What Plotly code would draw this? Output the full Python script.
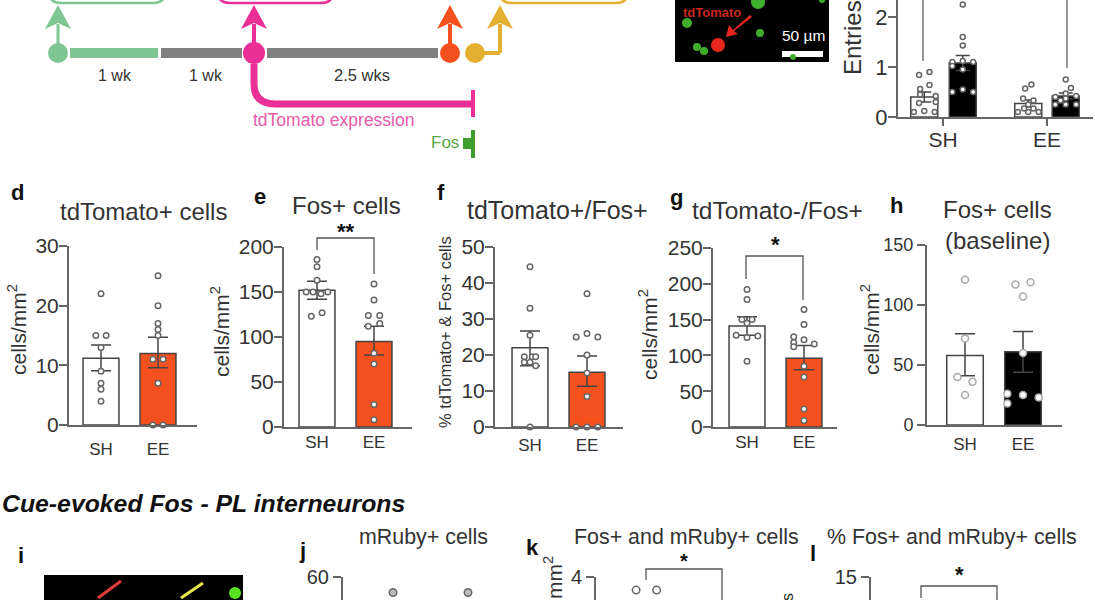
import plotly.graph_objects as go

W, H = 1095, 600
INK = "#333333"
AX = "#666666"
ORANGE = "#f4511e"
PINK = "#ea2f96"
LGREEN = "#7fc694"
YELLOW = "#e4b031"
DGREEN = "#3f9e2c"
GREY = "#808080"
FONT = "Liberation Sans"

groups = ["SH", "EE"]

# panel c
c_ticks = [0, 1, 2]
c_means = [0.40, 1.08, 0.27, 0.42]
c_errs = [0.10, 0.15, 0.07, 0.06]
c_pts_y = [
    [0.84, 0.90, 0.64, 0.56, 0.45, 0.42, 0.28, 0.30, 0.10, 0.12, 0.10],
    [2.25, 1.60, 1.43, 1.10, 1.12, 1.10, 1.02, 0.95, 0.50, 0.55, 0.50],
    [0.65, 0.57, 0.37, 0.33, 0.10, 0.10, 0.10, 0.17, 0.17, 0.25],
    [0.75, 0.58, 0.47, 0.40, 0.42, 0.25, 0.25, 0.25, 0.37, 0.33],
]
c_pts_dx = [
    [-.05, .05, .05, -.04, -.04, .11, -.05, .11, -.10, 0, .10],
    [0, 0, 0, -.10, 0, .10, -.10, 0, -.10, 0, .10],
    [.03, -.03, -.05, .05, -.10, 0, .10, -.04, .05, 0],
    [0, .05, 0, -.10, .10, -.10, 0, .10, 0, -.05],
]

# panel d
d_ticks = [0, 10, 20, 30]
d_means = [11.2, 12.0]
d_err_up = [2.2, 2.7]
d_err_dn = [2.1, 2.4]
d_sh_y = [22, 15, 15, 13, 9, 7, 6, 4]
d_sh_dx = [0, -.09, .09, 0, 0, 0, 0, 0]
d_ee_y = [25, 20, 17, 16, 15, 11, 11, 7, 0, 0]
d_ee_dx = [0, 0, 0, 0, 0, -.09, .09, 0, -.09, .09]

# panel e
e_ticks = [0, 50, 100, 150, 200]
e_means = [152, 95]
e_err_up = [10, 17]
e_err_dn = [10, 15]
e_sh_y = [186, 178, 163, 150, 150, 148, 150, 127, 123]
e_sh_dx = [0, 0, 0, -.19, -.07, .07, .19, .09, -.10]
e_ee_y = [159, 141, 124, 124, 115, 112, 82, 70, 25, 8]
e_ee_dx = [0, 0, -.10, .10, .10, -.10, 0, 0, 0, 0]

# panel f
f_ticks = [0, 10, 20, 30, 40, 50]
f_means = [22, 15.2]
f_err_up = [4.7, 4.5]
f_err_dn = [5, 3.9]
f_sh_y = [44.5, 33, 25.5, 19.5, 19.5, 19.5, 18, 18, 17, 0]
f_sh_dx = [0, 0, 0, -.1, .04, .1, -.1, 0, .1, 0]
f_ee_y = [37, 26, 25, 25, 20, 15, 8.5, 0, 0, 0]
f_ee_dx = [0, 0, -.19, .19, 0, 0, 0, -.19, 0, .19]

# panel g
g_ticks = [0, 50, 100, 150, 200, 250]
g_means = [141, 96]
g_err_up = [13, 18]
g_err_dn = [13, 16]
g_sh_y = [192, 178, 150, 150, 145, 128, 125, 127, 92]
g_sh_dx = [0, 0, -.09, .09, 0, -.19, 0, .19, 0]
g_ee_y = [164, 143, 126, 122, 116, 118, 112, 85, 70, 25, 9]
g_ee_dx = [0, 0, -.18, 0, .18, -.18, -.18, 0, 0, 0, 0]

# panel h
h_ticks = [0, 50, 100, 150]
h_means = [58, 61]
h_err_up = [18, 17]
h_err_dn = [17, 17]
h_sh_y = [121, 72, 40, 36, 25]
h_sh_dx = [0, 0, -.13, .13, 0]
h_ee_y = [119, 117, 107, 60, 26, 25, 23, 18]
h_ee_dx = [.13, -.13, 0, 0, -.27, 0, .27, -.27]

# lower row (only the top of each plot is in frame)
j_tick = [60]
j_y = [54.8, 54.8]
k_tick = [4]
k_y = [3.71, 3.71]
k_dx = [-.13, .14]
l_tick = [15]
l_y = []
l_dx = []

fig = go.Figure()
layout = {}
annotations = []
shapes = []
count = 0


def text(px, py, s, size=14, color=INK, angle=0, bold=False, italic=False, xanchor="center"):
    if bold:
        s = f"<b>{s}</b>"
    if italic:
        s = f"<i>{s}</i>"
    annotations.append(dict(
        x=px / W, y=1 - py / H, xref="paper", yref="paper", text=s, showarrow=False,
        xanchor=xanchor, yanchor="middle", textangle=angle,
        font=dict(family=FONT, size=size, color=color),
    ))


def rect(x0, y0, x1, y1, color):
    shapes.append(dict(
        type="rect", xref="paper", yref="paper", x0=x0 / W, x1=x1 / W, y0=1 - y0 / H, y1=1 - y1 / H,
        fillcolor=color, line=dict(width=0), layer="below",
    ))


def circle(cx, cy, r, color, layer="above"):
    shapes.append(dict(
        type="circle", xref="paper", yref="paper", x0=(cx - r) / W, x1=(cx + r) / W,
        y0=1 - (cy + r) / H, y1=1 - (cy - r) / H, fillcolor=color, line=dict(width=0), layer=layer,
    ))


def seg(x0, y0, x1, y1, color, width):
    shapes.append(dict(
        type="line", xref="paper", yref="paper", x0=x0 / W, x1=x1 / W, y0=1 - y0 / H, y1=1 - y1 / H,
        line=dict(color=color, width=width),
    ))


def poly(points, color=None, line=None, close=True):
    d = "M" + " L".join(f"{x / W:.5f},{1 - y / H:.5f}" for x, y in points) + (" Z" if close else "")
    shapes.append(dict(
        type="path", path=d, xref="paper", yref="paper",
        fillcolor=color if color else "rgba(0,0,0,0)",
        line=dict(width=0) if line is None else line,
    ))


def rounded_bottom(x0, x1, ytop, ybot, r, color, width):
    p = lambda x, y: f"{x / W:.5f},{1 - y / H:.5f}"
    d = f"M{p(x0, ytop)} Q{p(x0, ybot)} {p(x0 + r, ybot)} L{p(x1 - r, ybot)} Q{p(x1, ybot)} {p(x1, ytop)}"
    shapes.append(dict(type="path", path=d, xref="paper", yref="paper", fillcolor="rgba(0,0,0,0)",
                       line=dict(color=color, width=width)))


def axes(left, right, y0px, ytoppx, ymin, ymax, c0, spacing, ticks, tick_size, show_x=True, x_size=17,
         x_ticks=False, standoff=8, y_standoff=-4):
    global count
    count += 1
    n = count
    suffix = "" if n == 1 else str(n)
    layout[f"xaxis{suffix}"] = dict(
        domain=[left / W, right / W], anchor=f"y{suffix}", automargin=False,
        range=[(left - c0) / spacing, (right - c0) / spacing],
        tickmode="array", tickvals=[0, 1] if show_x else [], ticktext=groups if show_x else [],
        showgrid=False, zeroline=False, showline=show_x, linecolor=AX, linewidth=2,
        ticks="outside" if x_ticks else "", ticklen=7, tickcolor=AX, tickwidth=2,
        ticklabelstandoff=standoff,
        tickfont=dict(family=FONT, size=x_size, color=INK),
    )
    layout[f"yaxis{suffix}"] = dict(
        domain=[1 - y0px / H, 1 - ytoppx / H], anchor=f"x{suffix}", range=[ymin, ymax], automargin=False,
        tickmode="array", tickvals=ticks, ticktext=[str(t) for t in ticks],
        showgrid=False, zeroline=False, showline=True, linecolor=AX, linewidth=2,
        ticks="outside", ticklen=8, tickcolor=AX, tickwidth=2, ticklabelstandoff=y_standoff,
        tickfont=dict(family=FONT, size=tick_size, color=INK),
    )
    return f"x{n}", f"y{n}"


def bar(xa, ya, x, mean, up, dn, fill, width=.63, cap=10):
    fig.add_trace(go.Bar(
        x=[x], y=[mean], width=width, xaxis=xa, yaxis=ya, showlegend=False,
        marker=dict(color=fill, line=dict(color="#444444", width=1.5)),
        error_y=dict(type="data", array=[up], arrayminus=[dn], color="#444444", thickness=1.5, width=cap),
    ))


def dots(xa, ya, xs, ys, size=5.5, line="#666666", fill="#ffffff"):
    fig.add_trace(go.Scatter(
        x=xs, y=ys, mode="markers", xaxis=xa, yaxis=ya, showlegend=False, cliponaxis=False,
        marker=dict(size=size, color=fill, line=dict(color=line, width=1.5)),
    ))


def bracket(x0, x1, y_top, y_left, y_right):
    poly([(x0, y_left), (x0, y_top), (x1, y_top), (x1, y_right)], None, dict(color="#555555", width=1.3), close=False)


def two_bar(left, right, y0, top, ymax, c0, spacing, ticks, means, up, dn, sh_x, sh_y, ee_x, ee_y, fill,
            tick_size=21, x_size=17, size=5.5, line="#666666", width=.63, standoff=8, y_standoff=-4):
    xa, ya = axes(left, right, y0, top, 0, ymax, c0, spacing, ticks, tick_size, x_size=x_size,
                  standoff=standoff, y_standoff=y_standoff)
    bar(xa, ya, 0, means[0], up[0], dn[0], "#ffffff", width)
    bar(xa, ya, 1, means[1], up[1], dn[1], fill, width)
    dots(xa, ya, list(sh_x), sh_y, size, line)
    dots(xa, ya, [1 + d for d in ee_x], ee_y, size, line)
    return xa, ya


# -------- panel c
xa, ya = axes(898, 1093, 117, 0, 0, 2.34, 943, 104, c_ticks, 22, x_size=21, x_ticks=True, standoff=-4)
c_x = [-.18, .19, .82, 1.18]
c_fill = ["#ffffff", "#000000", "#ffffff", "#000000"]
for i in range(4):
    bar(xa, ya, c_x[i], c_means[i], c_errs[i], c_errs[i], c_fill[i], width=.26, cap=7)
for i in range(4):
    dots(xa, ya, [c_x[i] + d for d in c_pts_dx[i]], c_pts_y[i], 5, "#666666")
seg(923, 0, 923, 61, "#777777", 1.5)
seg(1067, 0, 1067, 68, "#777777", 1.5)
text(853, 37, "Entries", 24, angle=-90)

# -------- panel d
two_bar(69, 197, 425, 246, 30, 101, 57, d_ticks, d_means, d_err_up, d_err_dn, d_sh_dx, d_sh_y, d_ee_dx, d_ee_y, ORANGE)
text(143, 211, "tdTomato+ cells", 24)
text(17, 192, "d", 22, "#111111", bold=True)
text(17, 330, "cells/mm<sup>2</sup>", 21, angle=-90)

# -------- panel e
two_bar(284, 412, 427, 247, 200, 317, 57, e_ticks, e_means, e_err_up, e_err_dn, e_sh_dx, e_sh_y, e_ee_dx, e_ee_y, ORANGE,
        standoff=-1)
bracket(317, 374, 238, 250, 274)
text(346, 205, "Fos+ cells", 24)
text(346, 231, "**", 22, "#111111", bold=True)
text(260, 196, "e", 22, "#111111", bold=True)
text(220, 332, "cells/mm<sup>2</sup>", 21, angle=-90)

# -------- panel f
two_bar(495, 623, 427, 247, 50, 530, 57, f_ticks, f_means, f_err_up, f_err_dn, f_sh_dx, f_sh_y, f_ee_dx, f_ee_y, ORANGE,
        standoff=2)
text(557, 210, "tdTomato+/Fos+", 25)
text(441, 192, "f", 22, "#111111", bold=True)
text(445, 332, "% tdTomato+ &amp; Fos+ cells", 16.5, angle=-90)

# -------- panel g
two_bar(713, 837, 427, 248, 250, 747, 57, g_ticks, g_means, g_err_up, g_err_dn, g_sh_dx, g_sh_y, g_ee_dx, g_ee_y, ORANGE,
        standoff=-1)
bracket(746, 803, 256, 279, 300)
text(777, 210, "tdTomato-/Fos+", 24.5)
text(775, 244, "*", 22, "#111111", bold=True)
text(676, 197, "g", 22, "#111111", bold=True)
text(648, 335, "cells/mm<sup>2</sup>", 21, angle=-90)

# -------- panel h
two_bar(927, 1062, 425, 245, 150, 965, 58, h_ticks, h_means, h_err_up, h_err_dn, h_sh_dx, h_sh_y, h_ee_dx, h_ee_y, "#000000",
        tick_size=18, size=7, line="#aaaaaa", standoff=3, y_standoff=0)
text(997, 209, "Fos+ cells", 24)
text(997, 240, "(baseline)", 24)
text(896, 206, "h", 22, "#111111", bold=True)
text(870, 330, "cells/mm<sup>2</sup>", 21, angle=-90)

# -------- lower row
text(0, 503, "Cue-evoked Fos - PL interneurons", 24.8, "#111111", bold=True, italic=True, xanchor="left")
text(21, 555, "i", 22, "#111111", bold=True)
text(303, 550, "j", 22, "#111111", bold=True)
text(532, 547, "k", 22, "#111111", bold=True)
text(813, 553, "l", 22, "#111111", bold=True)
text(423, 537, "mRuby+ cells", 21.4)
text(686, 537, "Fos+ and mRuby+ cells", 21.4)
text(952, 537, "% Fos+ and mRuby+ cells", 21.4)

xa, ya = axes(343, 520, 600, 577, 52.3, 60, 393, 75, j_tick, 20, show_x=False, y_standoff=0)
dots(xa, ya, [0, 1], j_y, 7.5, "#666666", "#bbbbbb")

xa, ya = axes(596, 790, 600, 577, 3.49, 4, 646, 76, k_tick, 20, show_x=False, y_standoff=0)
dots(xa, ya, k_dx, k_y, 7.5, "#666666", "#ffffff")
bracket(646, 722, 569, 580, 600)
text(684, 561, "*", 20, "#111111", bold=True)
text(553, 578, "mm<sup>2</sup>", 21, angle=-90)

xa, ya = axes(871, 1060, 600, 577, 13.08, 15, 921, 76, l_tick, 20, show_x=False, y_standoff=0)
dots(xa, ya, l_dx, l_y)
bracket(921, 997, 586, 598, 600)
text(959, 574, "*", 22, "#111111", bold=True)
text(787, 597, "s", 16, angle=-90)

# -------- timeline schematic
rect(70, 48, 158, 58, LGREEN)
rect(161, 48, 242, 58, GREY)
rect(267, 48, 438, 58, GREY)
seg(475, 53, 500, 53, YELLOW, 4)
seg(500, 53, 500, 24, YELLOW, 4)
seg(58, 53, 58, 24, LGREEN, 3)
seg(254, 53, 254, 24, PINK, 4)
seg(450, 53, 450, 24, ORANGE, 4)
circle(58, 53, 10, LGREEN)
circle(254, 53, 11, PINK)
circle(450, 53, 10, ORANGE)
circle(475, 53, 10, YELLOW)
for ax_, col in [(58, LGREEN), (254, PINK), (450, ORANGE), (500, YELLOW)]:
    poly([(ax_, 5), (ax_ + 13, 29), (ax_, 23), (ax_ - 13, 29)], col)
for (x0, x1), col in [((49, 165), LGREEN), ((218, 333), PINK), ((500, 628), YELLOW)]:
    rounded_bottom(x0, x1, -8, 3, 12, col, 2.5)
P = lambda x, y: f"{x / W:.5f},{1 - y / H:.5f}"
shapes.append(dict(type="path", xref="paper", yref="paper", fillcolor="rgba(0,0,0,0)",
                   path=f"M{P(254, 64)} L{P(254, 84)} Q{P(254, 104)} {P(276, 104)} L{P(472, 104)}",
                   line=dict(color=PINK, width=7)))
seg(473, 90, 473, 117, PINK, 4)
seg(473, 130, 473, 158, DGREEN, 4)
rect(463, 138, 473, 149, DGREEN)
text(115, 75, "1 wk", 16)
text(206, 75, "1 wk", 16)
text(362, 75, "2.5 wks", 16.5)
text(333, 120, "tdTomato expression", 17.5, "#e85aa9")
text(445, 143, "Fos", 17, "#5aa64a")

# -------- micrographs (drawn as simple shapes)
rect(675, 0, 829, 62, "#000000")
for cx, cy, r in [(758, 2, 7), (687, 23, 5), (697, 47, 4), (704, 51, 4), (760, 33, 4), (793, 57, 3), (822, 0, 3)]:
    circle(cx, cy, r, "#3fae2a")
circle(718, 45, 7, "#e8261c")
poly([(750, 15), (733, 30), (729, 25), (726, 37), (738, 34), (734, 31), (752, 17)], "#e8261c")
rect(782, 51, 823, 57, "#ffffff")
text(712, 12, "tdTomato", 13, "#c8261c", bold=True)
text(803, 35, "50 µm", 15.5, "#ffffff")

rect(44, 575, 243, 600, "#000000")
circle(235, 593, 6, "#57e01f")
seg(121, 581, 98, 598, "#e03a3a", 3)
seg(203, 583, 181, 598, "#e6e84a", 3)

fig.update_layout(
    width=W, height=H, margin=dict(l=0, r=0, t=0, b=0, pad=0), barmode="overlay",
    plot_bgcolor="rgba(0,0,0,0)", paper_bgcolor="white", showlegend=False,
    annotations=annotations, shapes=shapes, font=dict(family=FONT),
    **layout,
)
fig.write_html("out.html", config={"displayModeBar": False},
               post_script="document.body.style.margin='0';document.body.style.overflow='hidden';")
